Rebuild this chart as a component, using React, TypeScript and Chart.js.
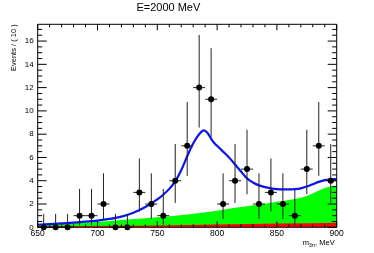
import React, { useEffect, useRef } from 'react';
import { Chart, registerables } from 'chart.js';

Chart.register(...registerables);

// ---- data ----
const binCenters = [655, 665, 675, 685, 695, 705, 715, 725, 735, 745, 755, 765, 775, 785, 795, 805, 815, 825, 835, 845, 855, 865, 875, 885, 895];
const counts = [0, 0, 0, 1, 1, 2, 0, 0, 3, 2, 1, 4, 7, 12, 11, 2, 4, 5, 2, 3, 2, 1, 5, 7, 4];
const errLow = [0, 0, 0, 0.83, 0.83, 1.29, 0, 0, 1.63, 1.29, 0.83, 1.91, 2.58, 3.43, 3.28, 1.29, 1.91, 2.16, 1.29, 1.63, 1.29, 0.83, 2.16, 2.58, 1.91];
const errHigh = [1.15, 1.15, 1.15, 2.3, 2.3, 2.64, 1.15, 1.15, 2.92, 2.64, 2.3, 3.16, 3.77, 4.53, 4.39, 2.64, 3.16, 3.38, 2.64, 2.92, 2.64, 2.3, 3.38, 3.77, 3.16];
const binHalfWidth = 5;

const fitX = [650, 660, 670, 680, 690, 700, 710, 720, 730, 740, 750, 755, 760, 765, 770, 775, 780, 785, 789, 792, 795, 798, 800, 805, 810, 815, 820, 825, 830, 835, 840, 845, 850, 855, 860, 865, 870, 875, 880, 885, 890, 895, 900];
const fitY = [0.22, 0.28, 0.34, 0.4, 0.48, 0.58, 0.72, 0.92, 1.25, 1.75, 2.4, 2.8, 3.3, 3.95, 4.9, 6.1, 7.2, 8.0, 8.32, 8.1, 7.6, 7.2, 7.0, 6.5, 6.0, 5.4, 4.8, 4.2, 3.85, 3.6, 3.45, 3.35, 3.28, 3.25, 3.25, 3.28, 3.35, 3.5, 3.7, 3.9, 4.05, 4.12, 4.15];

const bkgX = [650, 675, 700, 725, 750, 775, 800, 810, 820, 835, 850, 865, 875, 883, 890, 900];
const bkgY = [0.2, 0.32, 0.45, 0.67, 0.87, 1.1, 1.42, 1.6, 1.75, 1.95, 2.2, 2.43, 2.69, 3.06, 3.38, 3.6];

const bkg2X = [650, 700, 750, 800, 850, 900];
const bkg2Y = [0.08, 0.12, 0.16, 0.25, 0.33, 0.4];

const xTickLabels = [650, 700, 750, 800, 850, 900];
const yTickLabels = [0, 2, 4, 6, 8, 10, 12, 14, 16];

const titleText = 'E=2000 MeV';
const yTitleText = 'Events / ( 10 )';
const xTitleMain = 'm';
const xTitleSub = '3π';
const xTitleRest = ', MeV';

const FONT = '"Liberation Sans", Arial, Helvetica, sans-serif';

const errorBarPlugin = {
  id: 'errorBars',
  beforeDatasetDraw(chart: any, args: any) {
    if (args.index !== 0) return;
    const { ctx, scales } = chart;
    const x = scales.x;
    const y = scales.y;
    ctx.save();
    ctx.strokeStyle = '#222';
    ctx.lineWidth = 1;
    binCenters.forEach((c, i) => {
      const px = x.getPixelForValue(c);
      const py = y.getPixelForValue(counts[i]);
      ctx.beginPath();
      ctx.moveTo(px, y.getPixelForValue(counts[i] - errLow[i]));
      ctx.lineTo(px, y.getPixelForValue(counts[i] + errHigh[i]));
      ctx.moveTo(x.getPixelForValue(c - binHalfWidth), py);
      ctx.lineTo(x.getPixelForValue(c + binHalfWidth), py);
      ctx.stroke();
    });
    ctx.restore();
  },
};

const framePlugin = {
  id: 'frame',
  afterDraw(chart: any) {
    const { ctx, chartArea: a, scales } = chart;
    const x = scales.x;
    const y = scales.y;
    ctx.save();
    ctx.strokeStyle = '#000';
    ctx.lineWidth = 1;
    ctx.beginPath();
    ctx.rect(a.left, a.top, a.right - a.left, a.bottom - a.top);
    for (let v = x.min; v <= x.max + 1e-6; v += 10) {
      const px = x.getPixelForValue(v);
      const len = Math.abs(v % 50) < 1e-6 ? 6 : 3;
      ctx.moveTo(px, a.bottom);
      ctx.lineTo(px, a.bottom - len);
      ctx.moveTo(px, a.top);
      ctx.lineTo(px, a.top + len);
    }
    for (let v = 0; v <= y.max + 1e-6; v += 0.5) {
      const py = y.getPixelForValue(v);
      const len = Math.abs(v % 2) < 1e-6 ? 9 : 4.5;
      ctx.moveTo(a.left, py);
      ctx.lineTo(a.left + len, py);
      ctx.moveTo(a.right, py);
      ctx.lineTo(a.right - len, py);
    }
    ctx.stroke();

    // x-axis title with subscript
    ctx.fillStyle = '#000';
    ctx.textBaseline = 'alphabetic';
    const mainFont = `7.5px ${FONT}`;
    const subFont = `5px ${FONT}`;
    ctx.font = mainFont;
    const wMain = ctx.measureText(xTitleMain).width;
    const wRest = ctx.measureText(xTitleRest).width;
    ctx.font = subFont;
    const wSub = ctx.measureText(xTitleSub).width;
    const right = a.right - 2;
    const base = 245;
    let cx = right - (wMain + wSub + wRest);
    ctx.font = mainFont;
    ctx.fillText(xTitleMain, cx, base);
    cx += wMain;
    ctx.font = subFont;
    ctx.fillText(xTitleSub, cx, base + 1.5);
    cx += wSub;
    ctx.font = mainFont;
    ctx.fillText(xTitleRest, cx, base);
    ctx.restore();
  },
};

export default function App() {
  const ref = useRef<HTMLCanvasElement>(null);
  useEffect(() => {
    document.body.style.margin = '0';
    const canvas = ref.current;
    if (!canvas) return;
    const chart = new Chart(canvas, {
      type: 'line',
      data: {
        datasets: [
          {
            label: 'data',
            data: binCenters.map((c, i) => ({ x: c, y: counts[i] })),
            showLine: false,
            pointRadius: 3,
            pointBackgroundColor: '#000',
            pointBorderColor: '#000',
            pointBorderWidth: 0,
            clip: false,
          },
          {
            label: 'fit',
            data: fitX.map((v, i) => ({ x: v, y: fitY[i] })),
            borderColor: '#0a14f0',
            borderWidth: 2.2,
            pointRadius: 0,
            cubicInterpolationMode: 'monotone',
            fill: false,
          },
          {
            label: 'bkg2',
            data: bkg2X.map((v, i) => ({ x: v, y: bkg2Y[i] })),
            borderWidth: 0,
            borderColor: 'rgba(0,0,0,0)',
            backgroundColor: '#ff0000',
            pointRadius: 0,
            fill: 'origin',
            cubicInterpolationMode: 'monotone',
          },
          {
            label: 'bkg',
            data: bkgX.map((v, i) => ({ x: v, y: bkgY[i] })),
            borderWidth: 0,
            borderColor: 'rgba(0,0,0,0)',
            backgroundColor: '#00ff00',
            pointRadius: 0,
            fill: 'origin',
            cubicInterpolationMode: 'monotone',
          },
        ],
      },
      options: {
        animation: false,
        responsive: false,
        layout: { padding: { top: 0, left: 0, right: 37.3, bottom: 0 } },
        plugins: {
          legend: { display: false },
          tooltip: { enabled: false },
          title: {
            display: true,
            text: titleText,
            color: '#000',
            font: { family: FONT, size: 11, weight: 'normal' },
            padding: { top: 1.5, bottom: 9.6 },
          },
        },
        scales: {
          x: {
            type: 'linear',
            min: 650,
            max: 900,
            afterFit: (s: any) => { s.height = 25.7; },
            afterBuildTicks: (s: any) => { s.ticks = xTickLabels.map((v) => ({ value: v })); },
            grid: { display: false, drawTicks: false },
            border: { display: false },
            ticks: {
              color: '#000',
              padding: 1,
              maxRotation: 0,
              autoSkip: false,
              font: { family: FONT, size: 8.5 },
            },
          },
          y: {
            type: 'linear',
            min: 0,
            max: 17.44,
            afterFit: (s: any) => { s.width = 37.7; },
            afterBuildTicks: (s: any) => { s.ticks = yTickLabels.map((v) => ({ value: v })); },
            grid: { display: false, drawTicks: false },
            border: { display: false },
            title: {
              display: true,
              text: yTitleText,
              align: 'end',
              color: '#000',
              font: { family: FONT, size: 7.5 },
              padding: { top: 9.5, bottom: 0 },
            },
            ticks: {
              color: '#000',
              padding: 4,
              autoSkip: false,
              font: { family: FONT, size: 8 },
            },
          },
        },
      },
      plugins: [errorBarPlugin, framePlugin],
    } as any);
    return () => chart.destroy();
  }, []);
  return (
    <div style={{ width: 374, height: 253, background: '#fff' }}>
      <canvas ref={ref} width={374} height={253} />
    </div>
  );
}
